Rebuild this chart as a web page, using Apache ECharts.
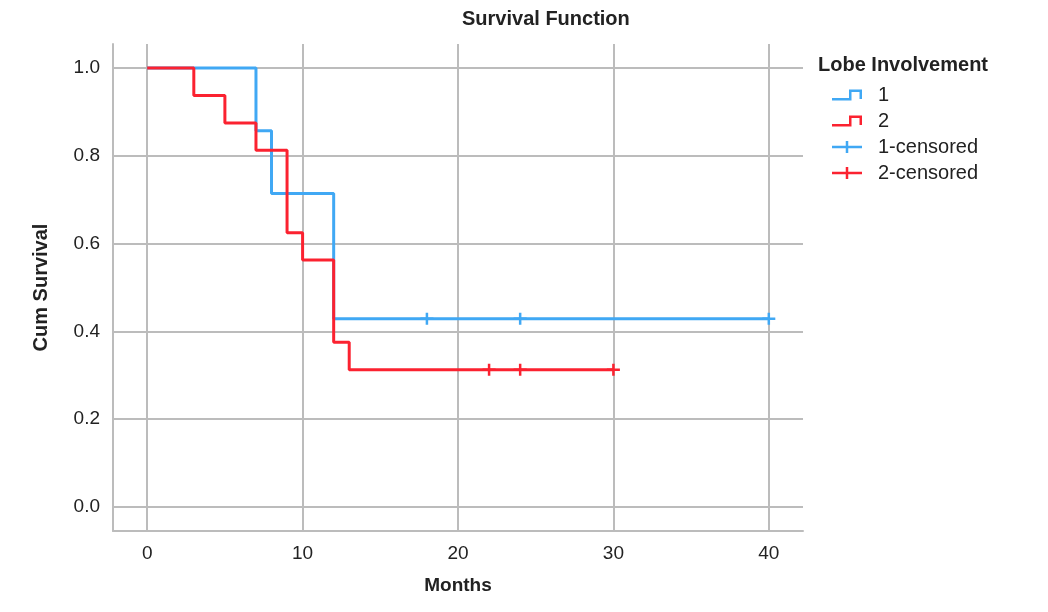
<!DOCTYPE html>
<html>
<head>
<meta charset="utf-8">
<script src="https://cdn.jsdelivr.net/npm/echarts@6/dist/echarts.min.js"></script>
<style>
html,body{margin:0;padding:0;background:#fff;}
#chart{width:1048px;height:612px;}
</style>
</head>
<body>
<div id="chart"></div>
<script>
// ---- data ----
var xTicks = [0, 10, 20, 30, 40];
var yTicks = [0, 0.2, 0.4, 0.6, 0.8, 1.0];
var group1Steps = [[0, 1], [7, 0.857], [8, 0.714], [12, 0.4286], [40, 0.4286]];
var group2Steps = [[0, 1], [3, 0.9375], [5, 0.875], [7, 0.8125], [9, 0.625], [10, 0.5625], [12, 0.375], [13, 0.3125], [30, 0.3125]];
var group1Censored = [[18, 0.4286], [24, 0.4286], [40, 0.4286]];
var group2Censored = [[22, 0.3125], [24, 0.3125], [30, 0.3125]];
var seriesNames = ['1', '2', '1-censored', '2-censored'];

var BLUE = '#40a8f4';
var RED = '#fb2230';
var GRID = '#bcbcbc';
var FONT = '"Liberation Sans", Arial, sans-serif';

var stepIcon = 'path://M0,9 L17,9 L17,0.5 L30,0.5 L30,10 L27.5,10 L27.5,3 L19.5,3 L19.5,11.5 L0,11.5 Z';
var crossIcon = 'path://M0,4.75 L13.75,4.75 L13.75,0 L16.25,0 L16.25,4.75 L30,4.75 L30,7.25 L16.25,7.25 L16.25,12 L13.75,12 L13.75,7.25 L0,7.25 Z';
var censorSymbol = 'path://M0,4.75 L5.25,4.75 L5.25,0 L7.75,0 L7.75,4.75 L13,4.75 L13,7.25 L7.75,7.25 L7.75,12 L5.25,12 L5.25,7.25 L0,7.25 Z';

var chart = echarts.init(document.getElementById('chart'), null, {renderer: 'canvas'});
chart.setOption({
  backgroundColor: '#fff',
  animation: false,
  textStyle: {fontFamily: FONT},
  title: [
    {text: 'Survival Function', left: 462, top: 9, padding: 0,
     textStyle: {fontFamily: FONT, fontSize: 20, fontWeight: 'bold', color: '#222'}},
    {text: 'Lobe Involvement', left: 818, top: 55, padding: 0,
     textStyle: {fontFamily: FONT, fontSize: 20, fontWeight: 'bold', color: '#222'}}
  ],
  legend: {
    orient: 'vertical',
    left: 832,
    top: 85,
    padding: 0,
    itemWidth: 30,
    itemHeight: 12,
    itemGap: 6,
    textStyle: {fontFamily: FONT, fontSize: 20, color: '#222', lineHeight: 20, padding: [0, 0, 0, 11]},
    data: [
      {name: seriesNames[0], icon: stepIcon, itemStyle: {color: BLUE, borderWidth: 0}},
      {name: seriesNames[1], icon: stepIcon, itemStyle: {color: RED, borderWidth: 0}},
      {name: seriesNames[2], icon: crossIcon, itemStyle: {color: BLUE, borderWidth: 0}},
      {name: seriesNames[3], icon: crossIcon, itemStyle: {color: RED, borderWidth: 0}}
    ]
  },
  grid: {left: 113, right: 245, top: 44, bottom: 81, containLabel: false},
  xAxis: {
    type: 'value',
    min: -2.2,
    max: 42.2,
    name: 'Months',
    nameLocation: 'middle',
    nameGap: 45,
    nameTextStyle: {fontFamily: FONT, fontSize: 19, fontWeight: 'bold', color: '#222'},
    axisLine: {show: true, onZero: false, lineStyle: {color: GRID, width: 2}},
    axisTick: {show: false, customValues: xTicks},
    axisLabel: {customValues: xTicks, fontFamily: FONT, fontSize: 19, color: '#222', margin: 13},
    splitLine: {show: true, lineStyle: {color: GRID, width: 2}}
  },
  yAxis: {
    type: 'value',
    min: -0.0547,
    max: 1.0547,
    name: 'Cum Survival',
    nameLocation: 'middle',
    nameGap: 62,
    nameTextStyle: {fontFamily: FONT, fontSize: 20, fontWeight: 'bold', color: '#222'},
    axisLine: {show: true, onZero: false, lineStyle: {color: GRID, width: 2}},
    axisTick: {show: false, customValues: yTicks},
    axisLabel: {customValues: yTicks, fontFamily: FONT, fontSize: 19, color: '#222', margin: 13,
      formatter: function (v) { return Number(v).toFixed(1); }},
    splitLine: {show: true, lineStyle: {color: GRID, width: 2}}
  },
  series: [
    {name: seriesNames[0], type: 'line', step: 'end', data: group1Steps, showSymbol: false, symbol: 'none',
     lineStyle: {color: BLUE, width: 3}, itemStyle: {color: BLUE}, z: 2},
    {name: seriesNames[1], type: 'line', step: 'end', data: group2Steps, showSymbol: false, symbol: 'none',
     lineStyle: {color: RED, width: 3}, itemStyle: {color: RED}, z: 3},
    {name: seriesNames[2], type: 'scatter', data: group1Censored, symbol: censorSymbol, symbolSize: [13, 12],
     itemStyle: {color: BLUE, opacity: 1}, z: 4},
    {name: seriesNames[3], type: 'scatter', data: group2Censored, symbol: censorSymbol, symbolSize: [13, 12],
     itemStyle: {color: RED, opacity: 1}, z: 5}
  ]
});
</script>
</body>
</html>
